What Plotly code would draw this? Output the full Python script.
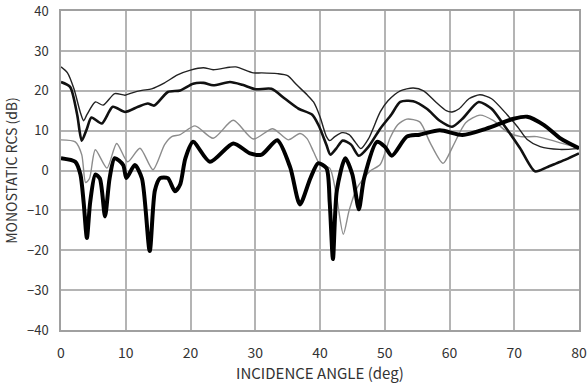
import plotly.graph_objects as go

# Series A (thin black, top)
a_ang = [0, 1, 2, 3, 3.5, 4, 5.3, 6.5, 8.3, 9.9, 11, 12.5, 14, 16, 18, 20, 22, 23.5, 26, 27,
         29.7, 31, 33.4, 35, 36.4, 38, 39, 40, 41, 41.5, 42.3, 43.4, 44.5, 45.5, 46.3, 47.5,
         49.3, 50.5, 52.4, 54.4, 56, 58, 59.5, 60.4, 61.5, 63, 64.7, 66.5, 68.9, 70.5, 72,
         74, 77, 80]
a_val = [26, 24.5, 20.5, 14.5, 12.5, 14, 17.2, 16.4, 19.3, 18.9, 19.5, 20.1, 20.5, 22, 24,
         25.2, 25.8, 25.3, 25.9, 26, 24.5, 24.5, 24.3, 23.8, 21.5, 19, 17.2, 13.5, 8.5, 7.5,
         8.5, 9.5, 9, 7, 5.5, 8, 14.7, 17.5, 20, 20.7, 20, 17, 15, 14.7, 15.5, 18, 19, 18, 14,
         11, 7.8, 6, 5.3, 5.5]

# Series B (medium black)
b_ang = [0, 1.4, 2.5, 3.2, 4, 4.7, 6.3, 8, 9.9, 11.9, 13.4, 14.4, 16.5, 18.4, 20.4, 22,
         23.5, 26.1, 28, 30, 32.5, 34.6, 36.7, 38.8, 39.8, 41, 41.6, 42.5, 43.5, 44.8, 46,
         47.5, 49.3, 51, 52.4, 54.4, 56.5, 58.5, 60.4, 62, 64.5, 66.5, 68.4, 70.9, 73.2, 75,
         76.5, 78, 80]
b_val = [22.2, 21, 14, 7.5, 10.5, 13.3, 11.8, 16, 14.7, 16, 16.8, 16.3, 19.7, 20.1, 21.8,
         22, 21.4, 22.2, 21.5, 20.4, 20.5, 18, 15.5, 14, 11.3, 6.4, 4, 5.5, 7.5, 6.5, 3.7, 6,
         10.5, 14, 17.2, 17.4, 15.5, 12.5, 11, 13, 17.2, 15.5, 11.4, 5.6, -0.2, 0.8, 1.8,
         2.8, 4.3]

# Series C (thin gray)
c_ang = [0, 2.2, 3.2, 3.8, 4.4, 5.3, 7.1, 8.6, 10.3, 12.2, 14.2, 16, 17.1, 18.4, 20.7, 23.5,
         26.6, 29.7, 32.7, 35.1, 36.9, 38, 39, 40, 41.5, 42.5, 43.6, 44.5, 45.7, 47.7, 49.3,
         50.8, 52, 53.4, 55.4, 57, 59, 60.5, 62.5, 64.7, 66.8, 68.9, 71, 73.5, 76.6, 80]
c_val = [7.7, 7.2, 4, -3, -2, 5.2, 0.6, 6.8, 2.2, 5.6, 0.2, 6.5, 8.5, 9, 11.2, 8.1, 12.6,
         7.9, 10.5, 7.7, 9.3, 8, 4.7, 1.5, 0.6, -6, -16, -10, -4.4, -0.2, 1.5, 8.1, 11.5,
         12.9, 12.2, 7, 1.8, 6, 12, 13.9, 12.5, 9.7, 8.5, 8.5, 7.2, 5.6]

# Series D (thick black)
d_ang = [0, 2.2, 3, 3.5, 4, 4.5, 5.3, 6, 6.8, 7.5, 8.3, 9.6, 10.1, 11.4, 12.5, 13.7, 14.5,
         15.3, 16.5, 17.6, 18.4, 19.2, 20.4, 23, 26.6, 29.2, 31, 33.4, 35.4, 36.9, 38.5,
         39.7, 41, 41.5, 42, 42.6, 43.9, 45, 46, 46.8, 48.8, 50, 51.1, 53.4, 55.4, 58.5, 62,
         65.7, 69.9, 72, 74.6, 77.2, 80]
d_val = [3.1, 2.2, -1, -8, -16.9, -8, -1, -2, -11.5, -2, 3.1, 1.4, -1.9, 1.4, -2, -20.2, -5,
         -1.9, -1.9, -5.2, -3.5, 3, 7.2, 2.2, 6.8, 4.3, 4, 7.6, 0.8, -8.5, -2, 1.8, 0.6, -8,
         -22.2, -5, 3.1, -1, -9.7, -2, 7.2, 6, 3.7, 8.5, 9, 10.1, 8.9, 10.5, 13, 13.5, 11.4,
         8, 5.6]

x_ticks = [0, 10, 20, 30, 40, 50, 60, 70, 80]
y_ticks = [-40, -30, -20, -10, 0, 10, 20, 30, 40]

fig = go.Figure()
series = [
    (c_ang, c_val, "#8c8c8c", 1.4),
    (a_ang, a_val, "#222222", 1.4),
    (b_ang, b_val, "#111111", 2.6),
    (d_ang, d_val, "#000000", 4.0),
]
for xs, ys, col, w in series:
    fig.add_trace(go.Scatter(x=xs, y=ys, mode="lines", cliponaxis=False,
                             line=dict(color=col, width=w, shape="spline", smoothing=0.7),
                             showlegend=False, hoverinfo="skip"))

font_family = "Noto Sans CJK JP, Liberation Sans, sans-serif"
fig.update_layout(
    width=587, height=383,
    margin=dict(l=61, r=8, t=11, b=53),
    paper_bgcolor="white", plot_bgcolor="white",
    font=dict(family=font_family, size=13, color="#333333"),
    xaxis=dict(range=[0, 80], tickvals=x_ticks, showgrid=True, gridcolor="#b4b4b4",
               gridwidth=1.5, showline=True, linecolor="#a0a0a0", linewidth=1.5,
               mirror=True, zeroline=False, ticks="", ticklabelstandoff=9,
               automargin=False, tickfont=dict(size=14),
               title=dict(text="INCIDENCE ANGLE (deg)", font=dict(size=15, color="#333333"),
                          standoff=8)),
    yaxis=dict(range=[-40, 40.02], tickvals=y_ticks, showgrid=True, gridcolor="#b4b4b4",
               gridwidth=1.5, showline=True, linecolor="#a0a0a0", linewidth=1.5,
               mirror=True, zeroline=False, ticks="", ticklabelstandoff=8,
               automargin=False, ticklabeloverflow="allow",
               title=dict(text="MONOSTATIC RCS (dB)", font=dict(size=14, color="#333333"),
                          standoff=6)),
)
fig.add_hline(y=-30, line=dict(color="#555555", width=1.2), layer="below")
fig.write_html("out.html")
